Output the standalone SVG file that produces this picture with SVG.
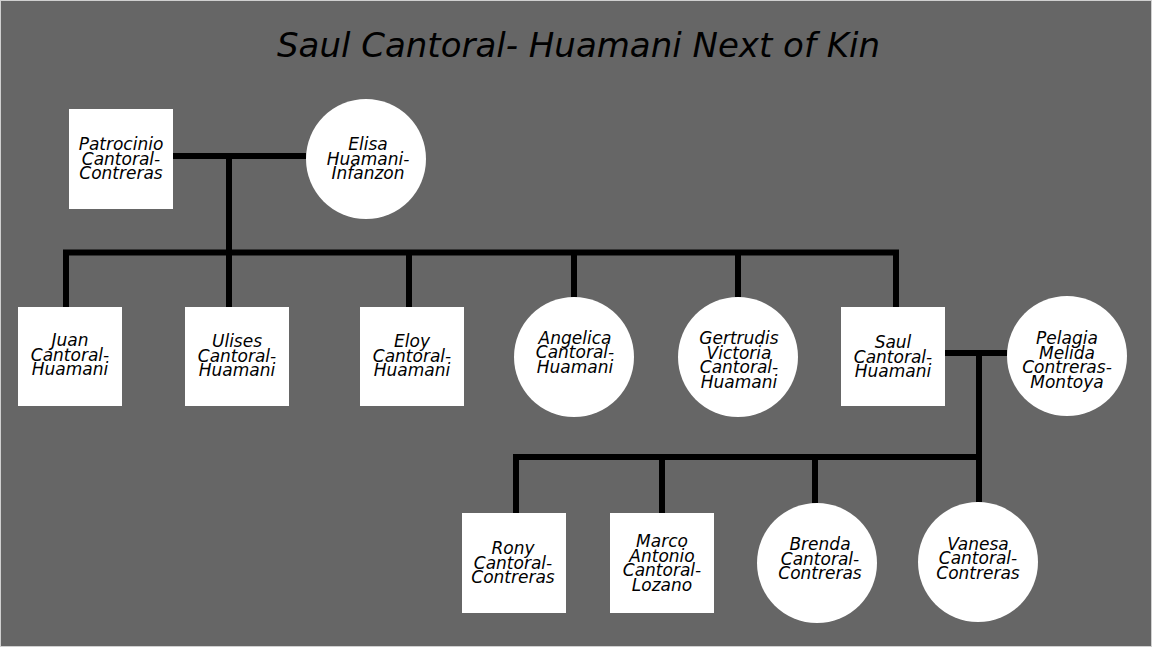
<svg xmlns="http://www.w3.org/2000/svg" width="1152" height="647" viewBox="0 0 1152 647">
<style>
.bg{fill:#666666}
.box{fill:#ffffff}
.lbl{font-family:"DejaVu Sans","Liberation Sans",sans-serif;font-style:italic;font-size:17px;fill:#000;text-anchor:middle}
.title{font-family:"DejaVu Sans","Liberation Sans",sans-serif;font-style:italic;font-size:34px;fill:#000;text-anchor:middle}
.ln{fill:none;stroke:#000;stroke-width:6;stroke-linejoin:miter;stroke-linecap:butt}
</style>
<rect x="0" y="0" width="1152" height="647" fill="#d0d0d0"/>
<rect class="bg" x="1" y="1" width="1150" height="645"/>
<text class="title" x="578.5" y="57">Saul Cantoral- Huamani Next of Kin</text>

<g id="connectors">
<path class="ln" d="M173,156 H306"/>
<path class="ln" d="M229,156 V307"/>
<path class="ln" d="M66,307 V252.5 H896 V307"/>
<path class="ln" d="M409,252.5 V307"/>
<path class="ln" d="M574,252.5 V297"/>
<path class="ln" d="M738,252.5 V297"/>
<path class="ln" d="M944,353 H1007"/>
<path class="ln" d="M979,353 V502"/>
<path class="ln" d="M516,513 V457 H979"/>
<path class="ln" d="M662,457 V513"/>
<path class="ln" d="M815,457 V503"/>
</g>

<g id="patrocinio">
<rect class="box" x="69" y="109" width="104" height="100"/>
<text class="lbl" x="121"><tspan x="121" y="150">Patrocinio</tspan><tspan x="121" y="164.5">Cantoral-</tspan><tspan x="121" y="179">Contreras</tspan></text>
</g>
<g id="elisa">
<circle class="box" cx="366" cy="159" r="60"/>
<text class="lbl"><tspan x="368" y="150">Elisa</tspan><tspan x="368" y="164.5">Huamani-</tspan><tspan x="368" y="179">Infanzon</tspan></text>
</g>

<g id="juan">
<rect class="box" x="18" y="307" width="104" height="99"/>
<text class="lbl"><tspan x="70" y="346">Juan</tspan><tspan x="70" y="360.5">Cantoral-</tspan><tspan x="70" y="375">Huamani</tspan></text>
</g>
<g id="ulises">
<rect class="box" x="185" y="307" width="104" height="99"/>
<text class="lbl"><tspan x="237" y="347">Ulises</tspan><tspan x="237" y="361.5">Cantoral-</tspan><tspan x="237" y="376">Huamani</tspan></text>
</g>
<g id="eloy">
<rect class="box" x="360" y="307" width="104" height="99"/>
<text class="lbl"><tspan x="412" y="347">Eloy</tspan><tspan x="412" y="361.5">Cantoral-</tspan><tspan x="412" y="376">Huamani</tspan></text>
</g>
<g id="angelica">
<circle class="box" cx="574" cy="357" r="60"/>
<text class="lbl"><tspan x="575" y="343.5">Angelica</tspan><tspan x="575" y="358">Cantoral-</tspan><tspan x="575" y="372.5">Huamani</tspan></text>
</g>
<g id="gertrudis">
<circle class="box" cx="738" cy="357" r="60"/>
<text class="lbl"><tspan x="739" y="344">Gertrudis</tspan><tspan x="739" y="358.5">Victoria</tspan><tspan x="739" y="373">Cantoral-</tspan><tspan x="739" y="387.5">Huamani</tspan></text>
</g>
<g id="saul">
<rect class="box" x="841" y="307" width="104" height="99"/>
<text class="lbl"><tspan x="893" y="348">Saul</tspan><tspan x="893" y="362.5">Cantoral-</tspan><tspan x="893" y="377">Huamani</tspan></text>
</g>
<g id="pelagia">
<circle class="box" cx="1067" cy="356" r="60"/>
<text class="lbl"><tspan x="1067" y="344">Pelagia</tspan><tspan x="1067" y="358.5">Melida</tspan><tspan x="1067" y="373">Contreras-</tspan><tspan x="1067" y="387.5">Montoya</tspan></text>
</g>

<g id="rony">
<rect class="box" x="462" y="513" width="104" height="100"/>
<text class="lbl"><tspan x="513" y="554">Rony</tspan><tspan x="513" y="568.5">Cantoral-</tspan><tspan x="513" y="583">Contreras</tspan></text>
</g>
<g id="marco">
<rect class="box" x="610" y="513" width="104" height="100"/>
<text class="lbl"><tspan x="662" y="547">Marco</tspan><tspan x="662" y="561.5">Antonio</tspan><tspan x="662" y="576">Cantoral-</tspan><tspan x="662" y="590.5">Lozano</tspan></text>
</g>
<g id="brenda">
<circle class="box" cx="817" cy="563" r="60"/>
<text class="lbl"><tspan x="820" y="550">Brenda</tspan><tspan x="820" y="564.5">Cantoral-</tspan><tspan x="820" y="579">Contreras</tspan></text>
</g>
<g id="vanesa">
<circle class="box" cx="978" cy="562" r="60"/>
<text class="lbl"><tspan x="978" y="549.5">Vanesa</tspan><tspan x="978" y="564">Cantoral-</tspan><tspan x="978" y="578.5">Contreras</tspan></text>
</g>
</svg>
